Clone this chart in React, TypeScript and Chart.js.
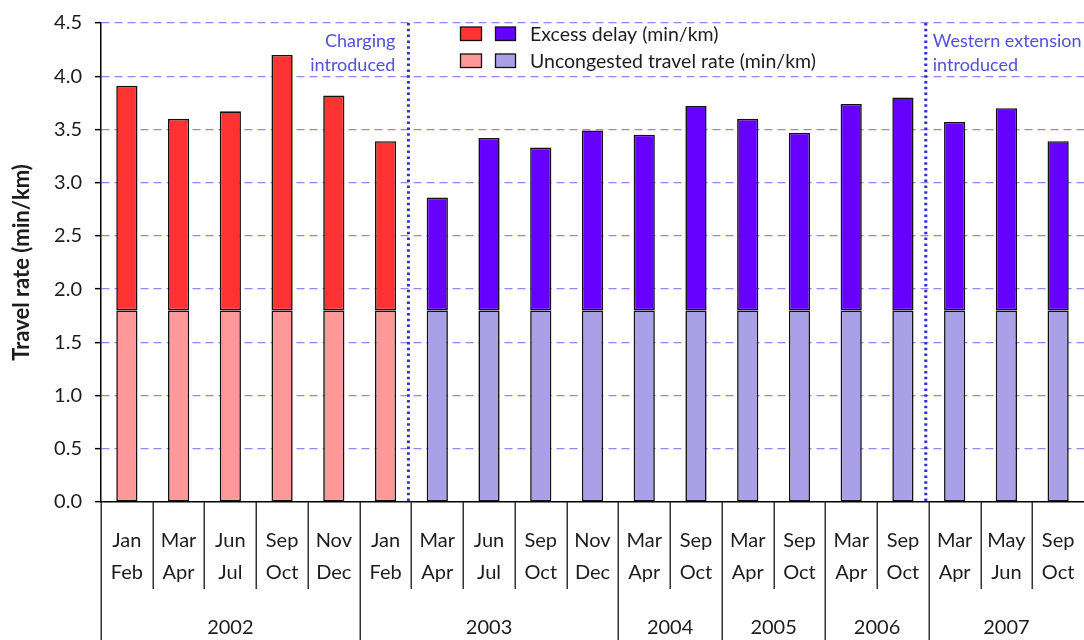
import React, { useEffect, useRef } from "react";
import { Chart, registerables } from "chart.js";

Chart.register(...registerables);

// ---- Data ----
const periods: string[][] = [
  ["Jan", "Feb"], ["Mar", "Apr"], ["Jun", "Jul"], ["Sep", "Oct"], ["Nov", "Dec"],
  ["Jan", "Feb"], ["Mar", "Apr"], ["Jun", "Jul"], ["Sep", "Oct"], ["Nov", "Dec"],
  ["Mar", "Apr"], ["Sep", "Oct"],
  ["Mar", "Apr"], ["Sep", "Oct"],
  ["Mar", "Apr"], ["Sep", "Oct"],
  ["Mar", "Apr"], ["May", "Jun"], ["Sep", "Oct"],
];
const years: string[] = ["2002", "2003", "2004", "2005", "2006", "2007"];
const periodsPerYear: number[] = [5, 5, 2, 2, 2, 3];
const uncongestedRate: number[] = [
  1.8, 1.8, 1.8, 1.8, 1.8, 1.8, 1.8, 1.8, 1.8, 1.8, 1.8, 1.8, 1.8, 1.8, 1.8, 1.8, 1.8, 1.8, 1.8,
];
const excessDelay: number[] = [
  2.11, 1.8, 1.87, 2.4, 2.02, 1.59, 1.06, 1.62, 1.53, 1.69, 1.65, 1.92, 1.8, 1.67, 1.94, 2.0, 1.77, 1.9, 1.59,
];
const beforeCharging: boolean[] = [
  true, true, true, true, true, true,
  false, false, false, false, false, false, false, false, false, false, false, false, false,
];
const yTicks: number[] = [0, 0.5, 1, 1.5, 2, 2.5, 3, 3.5, 4, 4.5];
const chargingLabel: string[] = ["Charging", "introduced"];
const westernLabel: string[] = ["Western extension", "introduced"];
const chargingAfterIndex = 5;
const westernAfterIndex = 15;
const seriesNames = ["Excess delay (min/km)", "Uncongested travel rate (min/km)"];

// ---- Styles ----
const RED = "#ff3333";
const PINK = "#ff9999";
const PURPLE = "#6600ff";
const LAVENDER = "#aaa0e8";
const GRID = "#9d80f2";
const ANNOT = "#5050dc";
const DOTTED = "#3030d0";
const TEXT = "#1c1c1c";
const FONT = "Lato, 'DejaVu Sans', sans-serif";

const overlayPlugin = {
  id: "overlay",
  afterDraw(chart: any) {
    const ctx = chart.ctx as CanvasRenderingContext2D;
    const xs = chart.scales.x;
    const ys = chart.scales.y;
    const area = chart.chartArea;
    const n = periods.length;
    const half = (xs.getPixelForValue(1) - xs.getPixelForValue(0)) / 2;
    const boundary = (i: number) => xs.getPixelForValue(i) - half;
    const H = chart.height;

    ctx.save();
    // dotted event lines
    ctx.strokeStyle = DOTTED;
    ctx.lineWidth = 3;
    ctx.setLineDash([2.5, 3.3]);
    [chargingAfterIndex, westernAfterIndex].forEach((idx) => {
      const bx = boundary(idx + 1) - 3;
      ctx.beginPath();
      ctx.moveTo(bx, area.top);
      ctx.lineTo(bx, area.bottom);
      ctx.stroke();
    });
    ctx.setLineDash([]);

    // category separators & year lines
    const yearStarts: number[] = [];
    let acc = 0;
    periodsPerYear.forEach((c) => {
      yearStarts.push(acc);
      acc += c;
    });
    ctx.strokeStyle = "#333";
    ctx.lineWidth = 1.5;
    for (let i = 0; i < n; i++) {
      const isYear = yearStarts.indexOf(i) >= 0;
      const bx = Math.round(boundary(i)) + 0.25;
      ctx.beginPath();
      ctx.moveTo(bx, area.bottom);
      ctx.lineTo(bx, isYear ? H : area.bottom + 87);
      ctx.stroke();
    }

    // year labels
    ctx.fillStyle = TEXT;
    ctx.font = `20px ${FONT}`;
    ctx.textAlign = "center";
    ctx.textBaseline = "middle";
    years.forEach((yr, k) => {
      const s = yearStarts[k];
      const e = s + periodsPerYear[k];
      const cx = (boundary(s) + boundary(e)) / 2;
      ctx.fillText(yr, cx, area.bottom + 126);
    });

    // annotations
    ctx.fillStyle = ANNOT;
    ctx.font = `18px ${FONT}`;
    const ly1 = ys.getPixelForValue(4.33);
    const ly2 = ys.getPixelForValue(4.1);
    const cx = boundary(chargingAfterIndex + 1) - 16;
    ctx.textAlign = "right";
    ctx.fillText(chargingLabel[0], cx, ly1);
    ctx.fillText(chargingLabel[1], cx, ly2);
    const wx = boundary(westernAfterIndex + 1) + 4;
    ctx.textAlign = "left";
    ctx.fillText(westernLabel[0], wx, ly1);
    ctx.fillText(westernLabel[1], wx, ly2);

    // legend
    const rows = [
      { y: 27, colors: [RED, PURPLE], text: seriesNames[0] },
      { y: 54, colors: [PINK, LAVENDER], text: seriesNames[1] },
    ];
    ctx.lineWidth = 1.3;
    ctx.strokeStyle = "#111";
    rows.forEach((r) => {
      ctx.fillStyle = r.colors[0];
      ctx.fillRect(460.5, r.y, 21, 13.5);
      ctx.strokeRect(460.5, r.y, 21, 13.5);
      ctx.fillStyle = r.colors[1];
      ctx.fillRect(495.5, r.y, 20, 13.5);
      ctx.strokeRect(495.5, r.y, 20, 13.5);
      ctx.fillStyle = TEXT;
      ctx.font = `19.5px ${FONT}`;
      ctx.textAlign = "left";
      ctx.textBaseline = "middle";
      ctx.fillText(r.text, 530, r.y + 7.5);
    });
    ctx.restore();
  },
};

export default function App() {
  const ref = useRef<HTMLCanvasElement | null>(null);

  useEffect(() => {
    document.body.style.margin = "0";
    const canvas = ref.current;
    if (!canvas) return;
    const chart = new Chart(canvas, {
      type: "bar",
      data: {
        labels: periods,
        datasets: [
          {
            label: seriesNames[1],
            data: uncongestedRate,
            backgroundColor: beforeCharging.map((b) => (b ? PINK : LAVENDER)),
            borderColor: "#111",
            borderWidth: 1.6,
            borderSkipped: false,
            barPercentage: 0.41,
            categoryPercentage: 1,
          },
          {
            label: seriesNames[0],
            data: excessDelay,
            backgroundColor: beforeCharging.map((b) => (b ? RED : PURPLE)),
            borderColor: "#111",
            borderWidth: 1.6,
            borderSkipped: false,
            barPercentage: 0.41,
            categoryPercentage: 1,
          },
        ],
      },
      options: {
        responsive: false,
        animation: false,
        layout: { padding: { top: 23, right: 0, bottom: 0, left: 0 } },
        plugins: { legend: { display: false }, tooltip: { enabled: false } },
        scales: {
          x: {
            stacked: true,
            offset: true,
            grid: { display: false, drawTicks: false },
            border: { display: true, color: "#000", width: 1.5 },
            ticks: {
              autoSkip: false,
              maxRotation: 0,
              minRotation: 0,
              padding: 23,
              color: TEXT,
              font: { family: FONT, size: 20, lineHeight: 1.6 },
            },
            afterFit: (s: any) => {
              s.height = 138;
              s.paddingLeft = 0;
              s.paddingRight = 0;
            },
          },
          y: {
            stacked: true,
            min: 0,
            max: 4.5,
            afterBuildTicks: (s: any) => {
              s.ticks = yTicks.map((v) => ({ value: v }));
            },
            grid: {
              color: (c: any) => (c.tick && c.tick.value === 0 ? "rgba(0,0,0,0)" : GRID),
              lineWidth: 1.3,
              tickColor: "#000",
              tickLength: 6,
              tickWidth: 1.5,
              tickBorderDash: [],
            },
            border: { display: true, color: "#000", width: 1.5, dash: [8, 5] },
            ticks: {
              padding: 13,
              color: TEXT,
              font: { family: FONT, size: 20 },
              callback: (v: any) => Number(v).toFixed(1),
            },
            title: {
              display: true,
              text: "Travel rate (min/km)",
              color: TEXT,
              font: { family: FONT, size: 22, weight: "bold" },
              padding: { top: 9, bottom: 0 },
            },
            afterFit: (s: any) => {
              s.width = 101;
              s.paddingTop = 0;
              s.paddingBottom = 0;
            },
          },
        },
      },
      plugins: [overlayPlugin],
    });
    return () => chart.destroy();
  }, []);

  return (
    <div style={{ width: 1084, height: 640 }}>
      <canvas ref={ref} width={1084} height={640} style={{ display: "block" }} />
    </div>
  );
}
